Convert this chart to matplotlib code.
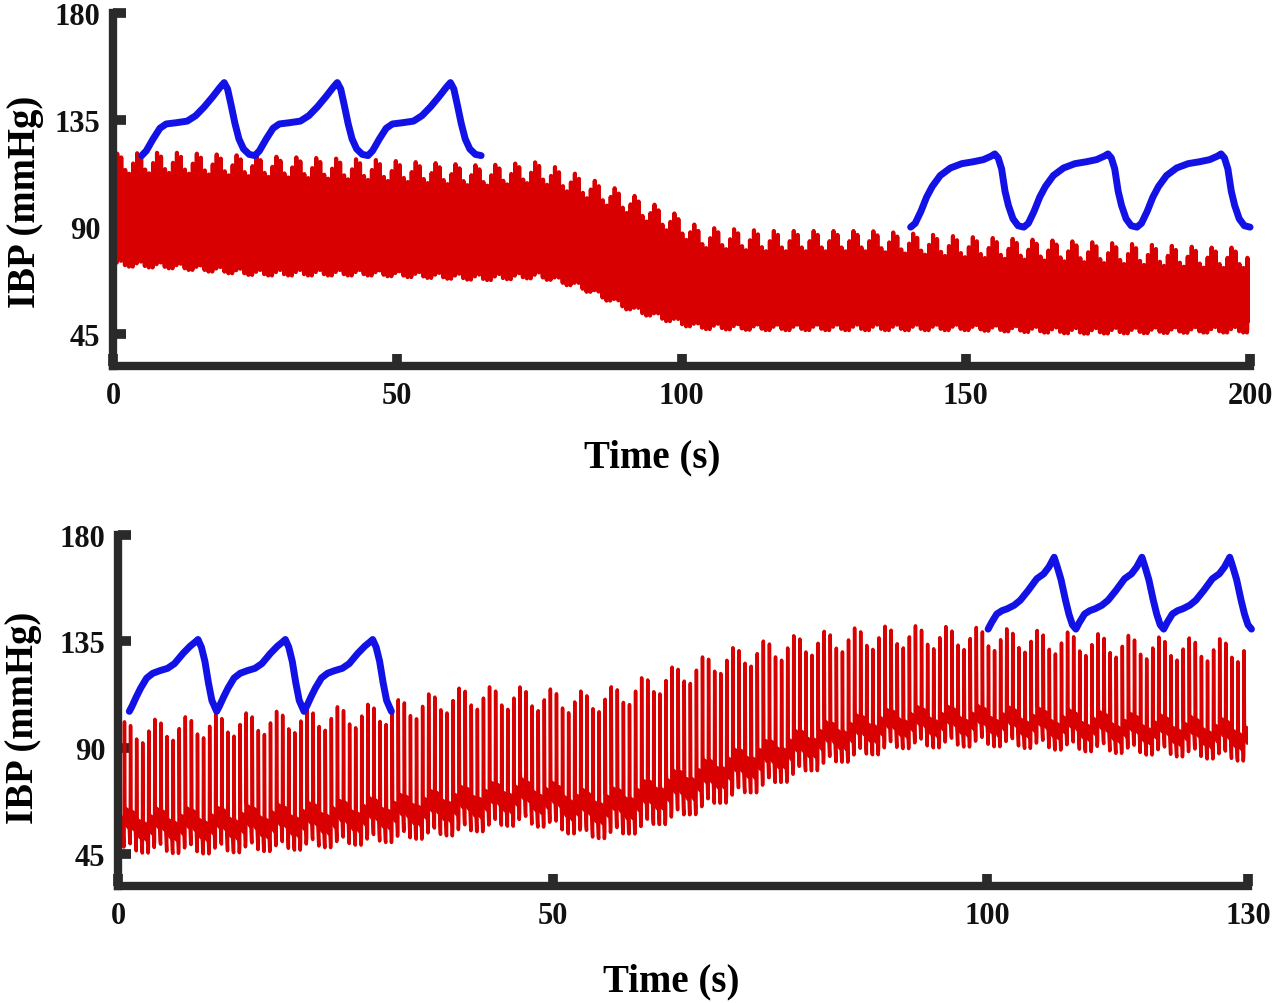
import numpy as np
import matplotlib.pyplot as plt

plt.rcParams['font.family'] = ['Liberation Serif', 'DejaVu Serif']

# ---- data ----
# top panel: red IBP trace, envelopes (mean systolic / mean diastolic)
top_t = [0, 10, 25, 45, 65, 75, 82, 91, 100, 103, 115, 133, 150, 170, 193, 200]
top_sys = [116.5, 117, 115.5, 114, 111.5, 113, 107.5, 99.5, 90, 85.5, 84, 84, 81.5, 79.5, 77, 77]
top_dia = [75, 74, 71, 71, 69, 70, 65.5, 56, 50, 48.5, 48, 48, 48, 46.5, 47, 47]

# bottom panel: red IBP trace envelopes
bot_t = [0, 10, 20, 30, 40, 46, 50, 54, 58, 65, 70, 75, 80, 85, 90, 100, 110, 120, 130]
bot_sys = [96, 99, 101, 104, 111, 111, 110, 109, 112, 121, 127, 131, 134, 136, 137, 136, 134, 132, 131]
bot_dia = [48, 47.5, 49, 52, 56, 60, 58, 53.5, 55, 63, 70, 76, 83, 88, 92, 93, 91, 89, 86.5]

beat_period = 0.7       # s
resp_period = 3.5       # s
top_resp = (4.5, 1.5)   # systolic / diastolic respiratory swing
bot_resp = (5.0, 2.5)

# one normalised heart beat (phase in beat, 0 = foot, 1 = systolic peak)
beat_phase = [0, 0.06, 0.13, 0.3, 0.45, 0.62, 0.78, 0.94]
beat_level = [0, 1.0, 0.3, 0.14, 0.27, 0.12, 0.2, 0.0]

# blue single-beat waveforms (time from trough, mmHg), start time, period
blue1_dt = [0, 0.8, 2.0, 3.2, 4.3, 6.0, 8.0, 9.5, 11.0, 12.5, 13.8, 14.5, 15.1, 15.7, 16.4, 17.1, 17.9, 18.9, 19.9]
blue1_v = [120, 122, 127, 131.5, 133.3, 133.8, 134.5, 136.8, 140.5, 144.8, 148.8, 150.7, 148.0, 141.5, 133.5, 127.0, 122.8, 120.5, 120.0]
blue1_start, blue1_period = 5.05, 19.9

blue2_dt = [0, 0.8, 1.8, 2.8, 3.8, 5.2, 7.0, 9.0, 11.0, 12.8, 14.2, 14.8, 15.4, 16.0, 16.6, 17.2, 18.0, 18.9, 19.9]
blue2_v = [89.9, 91.5, 96.5, 102.5, 107.0, 111.6, 114.8, 116.6, 117.4, 118.3, 119.8, 120.7, 119.0, 114.4, 105.0, 99.0, 93.4, 90.5, 89.9]
blue2_start, blue2_period = 140.3, 19.9

blue3_dt = [0, 0.3, 0.8, 1.3, 2.0, 2.7, 3.5, 4.4, 5.2, 6.2, 7.0, 7.6, 7.9, 8.3, 8.7, 9.1, 9.5, 10.05]
blue3_v = [105.4, 107.5, 111.5, 115.2, 119.5, 121.5, 122.6, 123.6, 125.6, 130.0, 133.0, 134.8, 135.8, 132.5, 126.5, 117.5, 110.0, 105.4]
blue3_start, blue3_period = 1.3, 10.05

blue4_dt = [0, 0.4, 1.0, 1.6, 2.2, 3.0, 3.7, 4.6, 5.6, 6.4, 7.0, 7.6, 8.0, 8.4, 8.9, 9.3, 9.7, 10.1]
blue4_v = [140.2, 143.0, 146.6, 148.0, 148.8, 150.3, 152.4, 156.5, 161.5, 163.6, 166.5, 170.6, 166.0, 161.0, 152.5, 146.5, 142.0, 140.2]
blue4_start, blue4_period = 100.1, 10.1

y_ticks = [45, 90, 135, 180]
top_xticks = [0, 50, 100, 150, 200]
bot_xticks = [0, 50, 100, 130]

RED = '#d80000'
BLUE = '#1212e6'
AXC = '#2a2a2a'


def red_trace(t_env, sys_env, dia_env, t_end, resp):
    phase = np.array(beat_phase)
    shape = np.array(beat_level)
    xs, ys = [], []
    for b in np.arange(0, t_end, beat_period):
        w = np.sin(2 * np.pi * b / resp_period)
        s = np.interp(b, t_env, sys_env) + resp[0] * w
        d = np.interp(b, t_env, dia_env) + resp[1] * w
        xs.append(b + phase * beat_period)
        ys.append(d + shape * (s - d))
    return np.concatenate(xs), np.concatenate(ys)


def blue_trace(dt, v, start, period, n=3):
    xs, ys = [], []
    for k in range(n):
        xs.extend([start + k * period + d for d in dt[:-1]])
        ys.extend(v[:-1])
    xs.append(start + n * period)
    ys.append(v[-1])
    return xs, ys


def style(ax, xticks, xmax):
    ax.set_xlim(0, xmax)
    ax.set_ylim(31.5, 180)
    ax.set_xticks(xticks)
    ax.set_yticks(y_ticks)
    for side in ['top', 'right']:
        ax.spines[side].set_visible(False)
    for side in ['left', 'bottom']:
        ax.spines[side].set_linewidth(6)
        ax.spines[side].set_color(AXC)
        ax.spines[side].set_capstyle('projecting')
    ax.tick_params(direction='in', length=9, width=7, color=AXC,
                   labelsize=22, labelcolor='#111111')
    ax.tick_params(axis='x', pad=11)
    ax.tick_params(axis='y', pad=9)
    for lab in ax.get_xticklabels() + ax.get_yticklabels():
        lab.set_fontweight('bold')


fig = plt.figure(figsize=(12.8, 10.04), dpi=100)

ax1 = fig.add_axes([0.0883, 0.6345, 0.8883, 0.3516])
x, y = red_trace(top_t, top_sys, top_dia, 200, top_resp)
ax1.plot(x, y, color=RED, lw=3.0)
for dt, v, st, per in [(blue1_dt, blue1_v, blue1_start, blue1_period),
                       (blue2_dt, blue2_v, blue2_start, blue2_period)]:
    bx, by = blue_trace(dt, v, st, per)
    ax1.plot(bx, by, color=BLUE, lw=5, solid_joinstyle='round',
             solid_capstyle='round', clip_on=False)
style(ax1, top_xticks, 200)

ax2 = fig.add_axes([0.0922, 0.1165, 0.8828, 0.3496])
x, y = red_trace(bot_t, bot_sys, bot_dia, 130, bot_resp)
ax2.plot(x, y, color=RED, lw=2.5)
for dt, v, st, per in [(blue3_dt, blue3_v, blue3_start, blue3_period),
                       (blue4_dt, blue4_v, blue4_start, blue4_period)]:
    bx, by = blue_trace(dt, v, st, per)
    ax2.plot(bx, by, color=BLUE, lw=5, solid_joinstyle='round',
             solid_capstyle='round', clip_on=False)
style(ax2, bot_xticks, 130)

# axis titles
fig.text(652 / 1280, 1 - 458 / 1004, 'Time (s)', ha='center', va='center',
         fontsize=28, fontweight='bold')
fig.text(671 / 1280, 1 - 982 / 1004, 'Time (s)', ha='center', va='center',
         fontsize=28, fontweight='bold')
fig.text(26 / 1280, 1 - 202 / 1004, 'IBP (mmHg)', ha='center', va='center',
         rotation=90, fontsize=28, fontweight='bold')
fig.text(24 / 1280, 1 - 718 / 1004, 'IBP (mmHg)', ha='center', va='center',
         rotation=90, fontsize=28, fontweight='bold')

fig.savefig('out.png', dpi=100)
